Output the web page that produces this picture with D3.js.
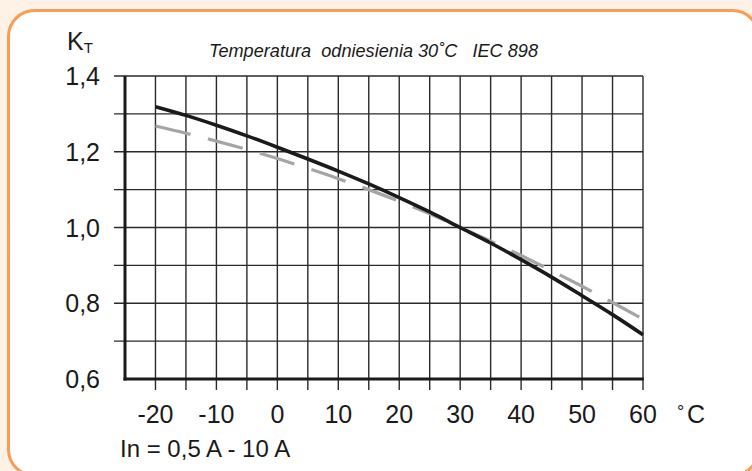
<!DOCTYPE html>
<html>
<head>
<meta charset="utf-8">
<script src="https://cdn.jsdelivr.net/npm/d3@7/dist/d3.min.js"></script>
<style>
  html, body { margin: 0; padding: 0; background: #fef2e6; }
  svg { display: block; }
  text { font-family: "Liberation Sans", Arial, sans-serif; fill: #1a1a1a; }
</style>
</head>
<body>
<svg id="chart" width="752" height="471"></svg>
<script>
// ---- data ----
const temps = [-20, -15, -10, -5, 0, 5, 10, 15, 20, 25, 30, 35, 40, 45, 50, 55, 60];
const kSolid  = [1.319, 1.296, 1.270, 1.242, 1.212, 1.181, 1.149, 1.115, 1.079, 1.041, 1.000, 0.959, 0.915, 0.869, 0.820, 0.770, 0.717];
const kDashed = [1.268, 1.249, 1.228, 1.206, 1.182, 1.156, 1.129, 1.100, 1.069, 1.036, 1.000, 0.964, 0.926, 0.886, 0.845, 0.802, 0.758];
const xTickLabels = [-20, -10, 0, 10, 20, 30, 40, 50, 60];
const yTickLabels = ["0,6", "0,8", "1,0", "1,2", "1,4"];
const yTickValues = [0.6, 0.8, 1.0, 1.2, 1.4];
const xGridValues = d3.range(-20, 61, 5);
const yGridValues = [0.7, 0.8, 0.9, 1.0, 1.1, 1.2, 1.3, 1.4];
const titleText = "Temperatura  odniesienia 30\u02DAC   IEC 898";
const noteText = "In = 0,5 A - 10 A";

const svg = d3.select("#chart");

// frame
svg.append("rect")
  .attr("x", 8.5).attr("y", 10.5).attr("width", 750).attr("height", 465)
  .attr("rx", 26).attr("ry", 26)
  .attr("fill", "#ffffff").attr("stroke", "#f99d55").attr("stroke-width", 3);

const x = d3.scaleLinear().domain([-25, 60]).range([125, 643]);
const y = d3.scaleLinear().domain([0.6, 1.4]).range([379, 76]);

const g = svg.append("g");

// vertical grid lines with ticks below axis
g.selectAll(".vg").data(xGridValues).enter().append("line")
  .attr("x1", d => x(d)).attr("x2", d => x(d))
  .attr("y1", y(1.4)).attr("y2", y(0.6) + 11)
  .attr("stroke", "#2a2a2a").attr("stroke-width", 1.4);

// horizontal grid lines with ticks left of axis
g.selectAll(".hg").data(yGridValues).enter().append("line")
  .attr("x1", x(-25) - 11).attr("x2", x(60))
  .attr("y1", d => y(d)).attr("y2", d => y(d))
  .attr("stroke", "#2a2a2a").attr("stroke-width", 1.4);

// axes (thick)
g.append("line")
  .attr("x1", x(-25)).attr("x2", x(-25))
  .attr("y1", y(1.4)).attr("y2", y(0.6) + 1.5)
  .attr("stroke", "#1a1a1a").attr("stroke-width", 3);
g.append("line")
  .attr("x1", x(-25) - 1.5).attr("x2", x(60) + 0.7)
  .attr("y1", y(0.6)).attr("y2", y(0.6))
  .attr("stroke", "#1a1a1a").attr("stroke-width", 3);

// curves
const line = d3.line().curve(d3.curveCatmullRom.alpha(0.5));
g.append("path")
  .attr("d", line(temps.map((t, i) => [x(t), y(kDashed[i])])))
  .attr("fill", "none").attr("stroke", "#a5a5a5").attr("stroke-width", 3.2)
  .attr("stroke-dasharray", "36,18");
g.append("path")
  .attr("d", line(temps.map((t, i) => [x(t), y(kSolid[i])])))
  .attr("fill", "none").attr("stroke", "#1c1919").attr("stroke-width", 3.6);

// y tick labels
g.selectAll(".yl").data(yTickValues).enter().append("text")
  .attr("x", 100).attr("y", d => y(d) + 9)
  .attr("text-anchor", "end").attr("font-size", 25)
  .text((d, i) => yTickLabels[i]);

// x tick labels
g.selectAll(".xl").data(xTickLabels).enter().append("text")
  .attr("x", d => x(d)).attr("y", 423)
  .attr("text-anchor", "middle").attr("font-size", 25)
  .text(d => String(d));

// unit
svg.append("text").attr("x", 677).attr("y", 418).attr("font-size", 18).text("\u00B0");
svg.append("text").attr("x", 687).attr("y", 423).attr("font-size", 25).text("C");

// K_T
const kt = svg.append("text").attr("x", 67).attr("y", 50).attr("font-size", 25);
kt.append("tspan").text("K");
kt.append("tspan").attr("font-size", 15).attr("dy", 3).text("T");

// title
svg.append("text")
  .attr("x", 209).attr("y", 57)
  .attr("font-size", 19).attr("font-style", "italic")
  .style("white-space", "pre")
  .attr("textLength", 329).attr("lengthAdjust", "spacingAndGlyphs")
  .text(titleText);

// note
svg.append("text")
  .attr("x", 120).attr("y", 457).attr("font-size", 24)
  .text(noteText);
</script>
</body>
</html>
